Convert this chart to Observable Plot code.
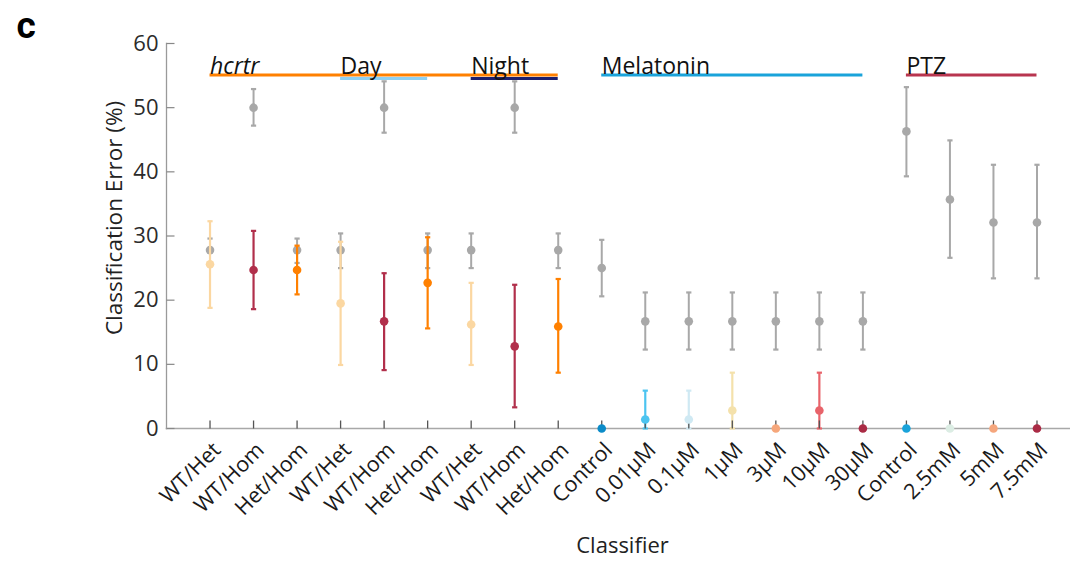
<!DOCTYPE html>
<html>
<head>
<meta charset="utf-8">
<script src="https://cdn.jsdelivr.net/npm/d3@7"></script>
<script src="https://cdn.jsdelivr.net/npm/@observablehq/plot@0.6"></script>
<style>
  html, body { margin: 0; padding: 0; background: #fff; }
  #chart svg { display: block; }
</style>
</head>
<body>
<div id="chart"></div>
<script>
// Classifier labels along the x axis
const classifiers = [
  "WT/Het", "WT/Hom", "Het/Hom",
  "WT/Het", "WT/Hom", "Het/Hom",
  "WT/Het", "WT/Hom", "Het/Hom",
  "Control", "0.01µM", "0.1µM", "1µM", "3µM", "10µM", "30µM",
  "Control", "2.5mM", "5mM", "7.5mM"
];

// Shuffled-label (chance) classification error, mean and interval
const nullMean = [27.8, 50, 27.8, 27.8, 50, 27.8, 27.8, 50, 27.8, 25.0,
  16.7, 16.7, 16.7, 16.7, 16.7, 16.7, 46.3, 35.7, 32.1, 32.1];
const nullLow = [25.8, 47.2, 25.8, 25.0, 46.1, 25.0, 25.0, 46.1, 25.0, 20.6,
  12.3, 12.3, 12.3, 12.3, 12.3, 12.3, 39.3, 26.6, 23.4, 23.4];
const nullHigh = [29.6, 52.9, 29.6, 30.4, 54.1, 30.4, 30.4, 54.1, 30.4, 29.4,
  21.2, 21.2, 21.2, 21.2, 21.2, 21.2, 53.2, 44.9, 41.1, 41.1];

// Real classifier error, mean and interval
const errMean = [25.6, 24.7, 24.7, 19.5, 16.7, 22.7, 16.2, 12.8, 15.9, 0,
  1.4, 1.4, 2.8, 0, 2.8, 0, 0, 0, 0, 0];
const errLow = [18.8, 18.6, 20.9, 9.9, 9.1, 15.6, 9.9, 3.3, 8.7, 0,
  0, 0, 0, 0, 0, 0, 0, 0, 0, 0];
const errHigh = [32.3, 30.8, 28.5, 29.1, 24.2, 29.8, 22.7, 22.4, 23.3, 0,
  5.9, 5.9, 8.7, 0, 8.7, 0, 0, 0, 0, 0];

// Colour of each classifier's marker
const pointColors = [
  "#fbd7a1", "#b12f4b", "#ff8000",
  "#fbd7a1", "#b12f4b", "#ff8000",
  "#fbd7a1", "#b12f4b", "#ff8000",
  "#0b8bc8", "#4cc4f0", "#cfe9f3", "#f4e1ab", "#f6a77b", "#e8636a", "#aa2b45",
  "#1aa3da", "#dcede4", "#f5a67d", "#aa2b45"
];

// Group brackets above the data
const groupNames = ["hcrtr", "Day", "Night", "Melatonin", "PTZ"];
const groupStart = [0, 3, 6, 9, 16];
const groupEnd = [8, 5, 8, 15, 19];
const groupTier = [0, 1, 1, 0, 0];
const groupColors = ["#ff8000", "#8fd0f2", "#1c1f6e", "#1aa3da", "#b8354f"];

const yTicks = [0, 10, 20, 30, 40, 50, 60];

const idx = classifiers.map((_, i) => i);
const rows = idx.map(i => ({
  i, label: classifiers[i],
  nm: nullMean[i], nl: nullLow[i], nh: nullHigh[i],
  m: errMean[i], lo: errLow[i], hi: errHigh[i], color: pointColors[i]
}));
const groups = groupNames.map((name, k) => ({
  name, start: groupStart[k], end: groupEnd[k], tier: groupTier[k], color: groupColors[k]
}));

const bracketLevel = 55.1;
const font = "'Open Sans', Lato, sans-serif";

// short horizontal cap for error bars
const cap = { draw(ctx, size) { const r = Math.sqrt(size / Math.PI); ctx.moveTo(-r, 0); ctx.lineTo(r, 0); } };
// inward axis ticks
const tickUp = { draw(ctx) { ctx.moveTo(0, 0); ctx.lineTo(0, -8); } };
const tickRight = { draw(ctx) { ctx.moveTo(0, 0); ctx.lineTo(8, 0); } };

const grey = "#a8a8a8";
const withBar = rows.filter(d => d.hi > d.lo);

const chart = Plot.plot({
  width: 1070,
  height: 562,
  marginLeft: 166,
  marginRight: 0,
  marginTop: 43,
  marginBottom: 134,
  x: { type: "linear", domain: [-1, 19.77], axis: null },
  y: { type: "linear", domain: [0, 60], axis: null },
  style: { fontFamily: font, background: "#fff" },
  marks: [
    // axes lines
    Plot.frame({ anchor: "left", stroke: "#9a9a9a", strokeWidth: 1.3 }),
    Plot.frame({ anchor: "bottom", stroke: "#a8a8a8", strokeWidth: 1.6 }),
    Plot.dot(yTicks, { y: d => d, frameAnchor: "left", symbol: tickRight, stroke: "#888", strokeWidth: 1.2, fill: "none" }),
    Plot.text(yTicks, { y: d => d, frameAnchor: "left", text: d => String(d), textAnchor: "end", dx: -8, fontSize: 22, fill: "#2b2b2b" }),

    // chance-level error bars
    Plot.ruleX(rows, { x: "i", y1: "nl", y2: "nh", stroke: grey, strokeWidth: 2 }),
    Plot.dot(rows, { x: "i", y: "nl", symbol: cap, r: 2.6, stroke: grey, strokeWidth: 2.2, fill: "none" }),
    Plot.dot(rows, { x: "i", y: "nh", symbol: cap, r: 2.6, stroke: grey, strokeWidth: 2.2, fill: "none" }),
    Plot.dot(rows, { x: "i", y: "nm", r: 4.3, fill: grey, stroke: "none" }),

    // classifier error bars
    Plot.ruleX(withBar, { x: "i", y1: "lo", y2: "hi", stroke: "color", strokeWidth: 2.2 }),
    Plot.dot(withBar, { x: "i", y: "lo", symbol: cap, r: 2.6, stroke: "color", strokeWidth: 2.2, fill: "none" }),
    Plot.dot(withBar, { x: "i", y: "hi", symbol: cap, r: 2.6, stroke: "color", strokeWidth: 2.2, fill: "none" }),

    // x ticks (drawn over bars, beneath points)
    Plot.dot(idx, { x: d => d, frameAnchor: "bottom", symbol: tickUp, stroke: "#555", strokeWidth: 1.3, fill: "none" }),
    Plot.dot(rows, { x: "i", y: "m", r: 4.3, fill: "color", stroke: "none" }),

    // x tick labels
    Plot.text(rows, { x: "i", frameAnchor: "bottom", text: "label", rotate: -45, textAnchor: "end", lineAnchor: "middle", dx: 7, dy: 18, fontSize: 21.5, fill: "#1a1a1a" }),

    // group brackets
    Plot.ruleY(groups.filter(g => g.tier === 0), { y: () => bracketLevel, x1: "start", x2: "end", stroke: "color", strokeWidth: 3 }),
    Plot.ruleY(groups.filter(g => g.tier === 1), { y: () => bracketLevel, x1: "start", x2: "end", stroke: "color", strokeWidth: 3, dy: 3.5 }),
    Plot.text(groups.filter(g => g.name === "hcrtr"), { x: "start", y: () => bracketLevel, text: "name", textAnchor: "start", lineAnchor: "bottom", dy: -1, fontSize: 23, fontStyle: "italic", fill: "#111" }),
    Plot.text(groups.filter(g => g.name !== "hcrtr"), { x: "start", y: () => bracketLevel, text: "name", textAnchor: "start", lineAnchor: "bottom", dy: -1, fontSize: 23, fill: "#111" }),

    // axis titles and panel letter
    Plot.text(["Classifier"], { frameAnchor: "bottom", text: d => d, textAnchor: "middle", lineAnchor: "middle", dy: 117, dx: 4, fontSize: 22, fill: "#222" }),
    Plot.text(["Classification Error (%)"], { frameAnchor: "left", text: d => d, textAnchor: "middle", lineAnchor: "middle", rotate: -90, dx: -52, dy: -18, fontSize: 22.5, fill: "#222" }),
    Plot.text(["c"], { frameAnchor: "top-left", text: d => d, textAnchor: "start", lineAnchor: "middle", dx: -150, dy: -17, fontSize: 37, fontFamily: "Roboto", fontWeight: "bold", fill: "#000" })
  ]
});

document.getElementById("chart").appendChild(chart);
</script>
</body>
</html>
